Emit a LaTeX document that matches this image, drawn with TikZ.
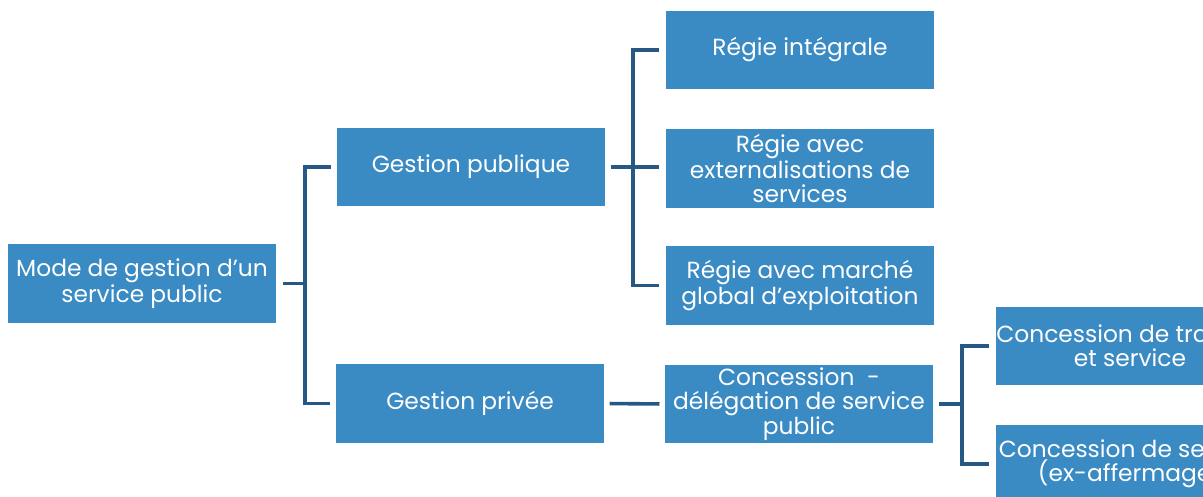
\documentclass[tikz,border=0pt]{standalone}
\usepackage{fontspec}
\setmainfont{Poppins}
\usepackage{tikz}
\usetikzlibrary{positioning}
\definecolor{boxblue}{RGB}{58,138,196}
\definecolor{linkblue}{RGB}{38,88,134}
\tikzset{
mode box/.style = { rectangle, draw = none, fill = boxblue, text = white, minimum width = 6.7cm, minimum height = 1.95cm, inner sep = 0pt, align = center, font = \fontsize{16.6pt}{17pt}\selectfont },
link/.style = { draw = linkblue, line width = 0.09cm },
}

\begin{document}
\begin{tikzpicture}[x=0.025cm, y=-0.025cm]
      \useasboundingbox (0,0) rectangle (1203,497);
      \clip (0,0) rectangle (1203,497);
      \begin{scope}[every node/.style={mode box}]
        \node (root) at (142,283.5) {Mode de gestion d'un\\service public};
        \node (pub) at (471,167) {Gestion publique};
        \node (priv) at (470,403.5) {Gestion privée};
        \node (regint) at (800,50) {Régie intégrale};
        \node (regext) at (800,168.5) {Régie avec\\externalisations de\\services};
        \node (regmar) at (800,285.5) {Régie avec marché\\global d'exploitation};
        \node (conc) at (799,404) {Concession \ -\\délégation de service\\public};
        \node (conctrav) at (1130,346) {Concession de travaux\\et service};
        \node (concserv) at (1130,464) {Concession de service\\(ex-affermage)};
      \end{scope}
      % junctions of the brackets
      \coordinate (j1) at (305,283.5);
      \coordinate (j2) at (633,167);
      \coordinate (j3) at (962,404);
      \begin{scope}[every path/.style={link}]
        \draw [shorten <=0.17cm] (root.east) -- (j1);
        \draw [shorten >=0.15cm] (j1) |- (pub.west);
        \draw [shorten >=0.15cm] (j1) |- (priv.west);
        \draw [shorten <=0.13cm] (pub.east) -- (j2);
        \draw [shorten >=0.17cm] (j2) |- (regint.west);
        \draw [shorten >=0.17cm] (j2) -- (regext.west |- j2);
        \draw [shorten >=0.17cm] (j2) |- (regmar.west);
        \draw [shorten <=0.13cm, shorten >=0.13cm] (priv.east) -- (conc.west);
        \draw [shorten <=0.13cm] (conc.east) -- (j3);
        \draw [shorten >=0.17cm] (j3) |- (conctrav.west);
        \draw [shorten >=0.17cm] (j3) |- (concserv.west);
      \end{scope}
    \end{tikzpicture}
\end{document}
